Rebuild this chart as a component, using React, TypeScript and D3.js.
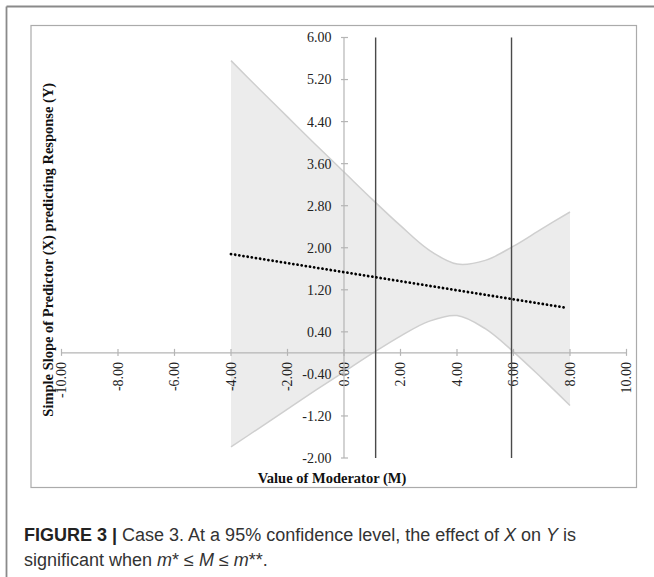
import React from "react";
import * as d3 from "d3";

// Moderator values at which the band/line were read
const moderator = [-4, -3, -2, -1, 0, 1, 2, 3, 4, 5, 6, 7, 8];
const upperCI = [5.56, 5.02, 4.49, 3.96, 3.44, 2.92, 2.42, 1.96, 1.69, 1.76, 2.03, 2.36, 2.68];
const lowerCI = [-1.79, -1.43, -1.07, -0.71, -0.36, -0.01, 0.32, 0.6, 0.71, 0.46, 0.02, -0.48, -1.0];
const slopeModerator = [-4, 7.85];
const slopeValues = [1.88, 0.86];
const jnPoints = [1.12, 5.93];

const xTicks = [-10, -8, -6, -4, -2, 0, 2, 4, 6, 8, 10];
const yTicks = [6, 5.2, 4.4, 3.6, 2.8, 2.0, 1.2, 0.4, -0.4, -1.2, -2.0];

const W = 654;
const H = 577;

export default function App() {
  const x = d3.scaleLinear().domain([-10, 10]).range([61.5, 626.5]);
  const y = d3.scaleLinear().domain([-2, 6]).range([458, 37.5]);

  const band = moderator.map((m, i) => ({ m, lo: lowerCI[i], hi: upperCI[i] }));
  const area = d3
    .area<{ m: number; lo: number; hi: number }>()
    .x((d) => x(d.m))
    .y0((d) => y(d.lo))
    .y1((d) => y(d.hi))
    .curve(d3.curveCatmullRom.alpha(0.5));
  const edgeHi = d3
    .line<{ m: number; lo: number; hi: number }>()
    .x((d) => x(d.m))
    .y((d) => y(d.hi))
    .curve(d3.curveCatmullRom.alpha(0.5));
  const edgeLo = d3
    .line<{ m: number; lo: number; hi: number }>()
    .x((d) => x(d.m))
    .y((d) => y(d.lo))
    .curve(d3.curveCatmullRom.alpha(0.5));
  const slopeLine = d3
    .line<number>()
    .x((d) => x(slopeModerator[d]))
    .y((d) => y(slopeValues[d]));

  const serif = "'Liberation Serif', 'Times New Roman', serif";
  const sans = "'Liberation Sans', Arial, sans-serif";
  const axisColor = "#b5b5b5";
  const x0 = x(0);
  const y0 = y(0);

  return (
    <svg
      width={W}
      height={H}
      style={{ position: "absolute", left: 0, top: 0, background: "#fff" }}
    >
      {/* outer figure frame */}
      <line x1={6.5} y1={6.5} x2={W} y2={6.5} stroke="#8a8a8a" strokeWidth={1.8} />
      <line x1={6.5} y1={6.5} x2={6.5} y2={H} stroke="#8a8a8a" strokeWidth={1.8} />
      {/* inner chart frame */}
      <rect x={31} y={25.5} width={605.5} height={462} fill="none" stroke="#ababab" strokeWidth={1.2} />

      {/* confidence band */}
      <path d={area(band) || ""} fill="#ececec" stroke="none" />
      <path d={edgeHi(band) || ""} fill="none" stroke="#cfcfcf" strokeWidth={1.5} />
      <path d={edgeLo(band) || ""} fill="none" stroke="#cfcfcf" strokeWidth={1.5} />

      {/* x axis */}
      <line x1={x(-10)} x2={x(10)} y1={y0} y2={y0} stroke={axisColor} strokeWidth={1.2} />
      {xTicks.map((t) => (
        <g key={"xt" + t}>
          <line x1={x(t)} x2={x(t)} y1={y0 - 4} y2={y0 + 3} stroke={axisColor} strokeWidth={1.2} />
          <text
            transform={`translate(${x(t)},${y0 + 9}) rotate(-90)`}
            textAnchor="end"
            dy="0.35em"
            fontFamily={serif}
            fontSize={14}
            fill="#222"
          >
            {t.toFixed(2)}
          </text>
        </g>
      ))}

      {/* y axis */}
      <line x1={x0} x2={x0} y1={y(6)} y2={y(-2)} stroke={axisColor} strokeWidth={1.2} />
      {yTicks.map((t) => (
        <g key={"yt" + t}>
          <line x1={x0 - 3} x2={x0 + 4} y1={y(t)} y2={y(t)} stroke={axisColor} strokeWidth={1.2} />
          <text
            x={x0 - 12.5}
            y={y(t)}
            dy="0.35em"
            textAnchor="end"
            fontFamily={serif}
            fontSize={14}
            fill="#222"
          >
            {t.toFixed(2)}
          </text>
        </g>
      ))}

      {/* Johnson-Neyman boundary lines */}
      {jnPoints.map((m) => (
        <line
          key={"jn" + m}
          x1={x(m)}
          x2={x(m)}
          y1={y(6)}
          y2={y(-2)}
          stroke="#4a4a4a"
          strokeWidth={1.4}
        />
      ))}

      {/* simple slope line */}
      <path
        d={slopeLine([0, 1]) || ""}
        fill="none"
        stroke="#000"
        strokeWidth={2.8}
        strokeLinecap="round"
        strokeDasharray="0.01,4.2"
      />

      {/* axis titles */}
      <text
        transform={`translate(53,${(y(6) + y(-2)) / 2 + 2}) rotate(-90)`}
        textAnchor="middle"
        fontFamily={serif}
        fontWeight="bold"
        fontSize={14.5}
        fill="#111"
      >
        Simple Slope of Predictor (X) predicting Response (Y)
      </text>
      <text
        x={332}
        y={483}
        textAnchor="middle"
        fontFamily={serif}
        fontWeight="bold"
        fontSize={14.5}
        fill="#111"
      >
        Value of Moderator (M)
      </text>

      {/* caption */}
      <text x={24} y={541} fontFamily={sans} fontSize={18} fill="#333">
        <tspan fontWeight="bold" fill="#222">FIGURE 3 |</tspan>
        <tspan> Case 3. At a 95% confidence level, the effect of </tspan>
        <tspan fontStyle="italic">X</tspan>
        <tspan> on </tspan>
        <tspan fontStyle="italic">Y</tspan>
        <tspan> is</tspan>
      </text>
      <text x={24} y={566} fontFamily={sans} fontSize={18} fill="#333">
        <tspan>significant when </tspan>
        <tspan fontStyle="italic">m</tspan>
        <tspan>* ≤ </tspan>
        <tspan fontStyle="italic">M</tspan>
        <tspan> ≤ </tspan>
        <tspan fontStyle="italic">m</tspan>
        <tspan>**.</tspan>
      </text>
    </svg>
  );
}
